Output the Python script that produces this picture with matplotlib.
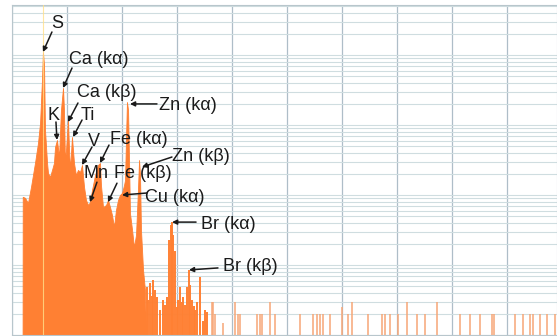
import numpy as np
import matplotlib.pyplot as plt
import matplotlib as mpl

mpl.rcParams['font.family'] = ['Liberation Sans', 'DejaVu Sans']

# ================= Data (energy in keV, counts) =================
# continuous part of the spectrum (solid fill)
main_energy = [0.77, 0.78, 0.80, 0.95, 1.16, 1.38, 1.67, 1.89, 2.04, 2.18, 2.25, 2.33,
               2.40, 2.55, 2.62, 2.76, 2.91, 3.05, 3.13, 3.27, 3.42, 3.56, 3.71, 3.78,
               3.85, 3.93, 4.07, 4.15, 4.22, 4.36, 4.51, 4.65, 4.80, 4.95, 5.09, 5.24,
               5.38, 5.53, 5.67, 5.82, 6.04, 6.25, 6.40, 6.47, 6.62, 6.84, 6.98, 7.13,
               7.27, 7.42, 7.56, 7.71, 7.85, 8.00, 8.15, 8.22, 8.29, 8.36, 8.44, 8.51,
               8.58, 8.73, 8.87, 9.02, 9.16, 9.24, 9.31, 9.38, 9.53, 9.67, 9.75]
main_counts = [1, 94, 94, 91, 77, 130, 286, 553, 1068, 4395, 11040, 7197,
               849, 286, 206, 181, 228, 286, 485, 611, 349, 1638, 3378, 1638,
               316, 439, 1179, 439, 228, 674, 286, 193, 228, 213, 268, 130,
               85, 72, 79, 118, 193, 268, 286, 139, 67, 72, 85, 67,
               52, 35, 61, 85, 100, 107, 139, 164, 611, 2131, 1638, 316,
               55, 32, 18, 27, 118, 316, 193, 32, 8.5, 4.4, 1]

# spiky tail of the spectrum
tail_energy = [9.80, 9.92, 10.04, 10.15, 10.25, 10.40, 10.55, 10.76, 10.98, 11.10,
               11.27, 11.42, 11.56, 11.64, 11.71, 11.85, 12.00, 12.10, 12.22, 12.33,
               12.44, 12.60, 12.73, 12.87, 12.98, 13.09, 13.20, 13.31, 13.45, 13.67,
               13.89, 14.05, 14.18]
tail_counts = [4.9, 3.2, 5.5, 3.6, 6.1, 4.4, 3.5, 2.3, 3.2, 2.7,
               3.5, 23, 37, 41, 27, 16, 2.5, 3.2, 4.9, 3.0,
               3.5, 2.7, 4.9, 8.5, 5.2, 3.2, 2.6, 2.3, 3.0, 6.7,
               1.6, 2.3, 2.1]

# isolated single counts at high energy
sparse_energy = [14.55, 14.62, 14.76, 15.35, 16.22, 16.44, 16.58, 17.82, 18.04, 18.18,
                 18.76, 19.13, 20.95, 21.89, 22.18, 22.40, 22.62, 23.13, 24.00, 24.44,
                 24.73, 25.89, 26.91, 27.13, 27.49, 28.07, 28.73, 29.45, 30.04, 30.91,
                 32.58, 33.31, 34.04, 34.91, 35.05, 36.58, 37.16, 37.67, 37.89, 38.40,
                 38.91, 39.49]
sparse_counts = [3, 3, 2, 1.5, 3, 2, 2, 2, 2, 2,
                 3, 2, 2, 2, 2, 2, 2, 2, 2.5, 2,
                 3, 2, 2, 2, 2, 2, 3, 2, 2, 3,
                 2, 2, 2, 2, 2, 2, 2, 2, 2, 2,
                 2, 2]

# peak labels: name, energy and counts at the arrow tip
peak_names = ['S', 'K', 'Ca (kα)', 'Ca (kβ)', 'Ti', 'V', 'Mn', 'Fe (kα)', 'Fe (kβ)',
              'Cu (kα)', 'Zn (kα)', 'Zn (kβ)', 'Br (kα)', 'Br (kβ)']
peak_energy = [2.25, 3.27, 3.71, 4.07, 4.44, 5.09, 5.67, 6.40, 6.98,
               8.00, 8.58, 9.45, 11.64, 12.87]
peak_counts = [11040, 611, 3378, 1104, 674, 268, 79, 286, 79,
               100, 2000, 251, 41, 8.5]

# ================= Layout of the labels (pixel offsets from arrow tip) =================
arrow_tail = [(9, 20), (-1, 18), (9, 20), (10, 19), (9, 17), (10, 18), (7, 20), (9, 18),
              (9, 19), (25, 2), (27, 0), (30, 10), (24, 0), (29, 2)]
text_pos = [(14, 24), (-3, 20), (36, 24), (39, 25), (15, 17), (12, 19), (6, 24), (39, 19),
            (35, 24), (53, -7), (58, -6), (59, 6), (56, -7), (61, -1)]

# ================= Plot =================
fig = plt.figure(figsize=(5.57, 3.36), dpi=100)
ax = fig.add_axes([12 / 557, 1 / 336, 545 / 557, 330 / 336])

orange = '#ff8033'
ax.fill_between(main_energy, 1, main_counts, color=orange, linewidth=0.6, edgecolor=orange, zorder=2)
ax.vlines(tail_energy, 1, tail_counts, color=orange, linewidth=1.4, zorder=2)
ax.vlines(sparse_energy, 1, sparse_counts, color='#f7a676', linewidth=1.1, zorder=2)
# faint marker line at the sulfur peak
ax.axvline(peak_energy[0], color='#ffe08a', linewidth=0.8, alpha=0.8, zorder=3)

ax.set_yscale('log')
ax.set_ylim(1, 10 ** (330 / 70))
ax.set_xlim(0, 545 / 13.75)
ax.set_xticks(np.arange(0, 40, 4))

ax.grid(True, which='both', axis='y', color='#cfdde0', linewidth=0.8)
ax.grid(True, which='major', axis='x', color='#aebdc8', linewidth=0.9)
ax.set_axisbelow(True)
ax.tick_params(which='both', length=0, labelleft=False, labelbottom=False)
for side in ['left', 'top', 'bottom', 'right']:
    ax.spines[side].set_color('#b8c6cc')
    ax.spines[side].set_linewidth(0.8)

for name, e, c, tail, tp in zip(peak_names, peak_energy, peak_counts, arrow_tail, text_pos):
    ax.annotate('', xy=(e, c), xytext=(tail[0], tail[1]), textcoords='offset pixels',
                arrowprops=dict(arrowstyle='-|>', color='#1a1a1a', lw=1.1,
                                mutation_scale=7, shrinkA=0, shrinkB=0), zorder=5)
    ax.annotate(name, xy=(e, c), xytext=(tp[0], tp[1]), textcoords='offset pixels',
                ha='center', va='baseline', fontsize=13, color='#1a1a1a', zorder=6)

fig.savefig('out.png', dpi=100)
